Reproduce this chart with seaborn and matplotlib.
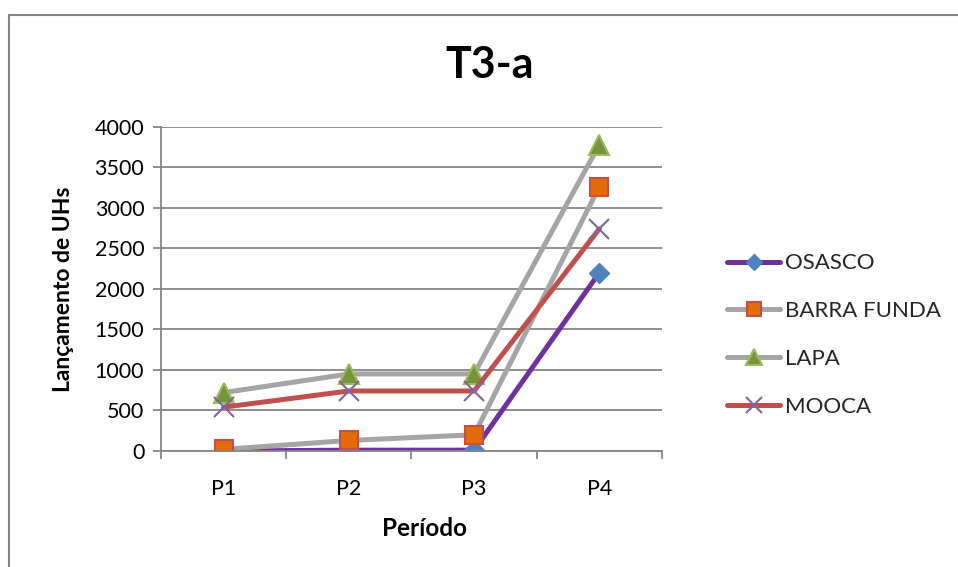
import matplotlib
matplotlib.use("Agg")
import matplotlib.pyplot as plt
from matplotlib.lines import Line2D
import seaborn as sns
import pandas as pd

# Data
periods = ["P1", "P2", "P3", "P4"]
osasco = [0, 10, 10, 2200]
barra_funda = [20, 130, 200, 3260]
lapa = [720, 950, 950, 3780]
mooca = [540, 740, 740, 2740]

series_names = ["OSASCO", "BARRA FUNDA", "LAPA", "MOOCA"]
series_values = [osasco, barra_funda, lapa, mooca]

# Styles per series: line colour, marker, marker face, marker edge, marker size
styles = {
    "OSASCO": dict(color="#7030A0", marker="D", mfc="#4F81BD", mec="#4F81BD", ms=10, mew=1),
    "BARRA FUNDA": dict(color="#A5A5A5", marker="s", mfc="#E36C09", mec="#C0504D", ms=12.5, mew=1.5),
    "LAPA": dict(color="#A5A5A5", marker="^", mfc="#77933C", mec="#9BBB59", ms=14, mew=1.5),
    "MOOCA": dict(color="#C0504D", marker="x", mfc="#8064A2", mec="#8064A2", ms=14, mew=1.5),
}

df = pd.DataFrame({
    "Período": periods * len(series_names),
    "valor": [v for vals in series_values for v in vals],
    "serie": [n for n in series_names for _ in periods],
})

sns.set_theme(style="white")
plt.rcParams["font.family"] = ["Lato", "DejaVu Sans"]

fig = plt.figure(figsize=(9.58, 5.67), dpi=100)
ax = fig.add_axes([0.168, 0.2046, 0.523, 0.5720])

grid_col = "#868686"
lw = 3.6
for name in series_names:
    st = styles[name]
    sub = df[df["serie"] == name]
    sns.lineplot(data=sub, x="Período", y="valor", ax=ax, color=st["color"],
                 linewidth=lw, marker=st["marker"], markersize=st["ms"],
                 markerfacecolor=st["mfc"], markeredgecolor=st["mec"],
                 markeredgewidth=st["mew"], legend=False, sort=False)

ax.set_xlim(-0.5, 3.5)
ax.set_ylim(0, 4000)
ax.set_yticks(range(0, 4001, 500))
ax.set_xticks(range(len(periods)))
ax.set_xticklabels(periods)
ax.set_xticks([-0.5, 0.5, 1.5, 2.5, 3.5], minor=True)

ax.yaxis.grid(True, color=grid_col, linewidth=1.3)
ax.set_axisbelow(True)
for side in ["top", "right"]:
    ax.spines[side].set_visible(False)
for side in ["left", "bottom"]:
    ax.spines[side].set_color(grid_col)
    ax.spines[side].set_linewidth(1.3)

ax.tick_params(axis="y", which="major", length=6, width=1.3, color=grid_col,
               labelsize=15.5, pad=6, left=True)
ax.tick_params(axis="x", which="major", length=0, labelsize=15.5, pad=20)
ax.tick_params(axis="x", which="minor", length=6, width=1.3, color=grid_col, bottom=True)
for lbl in ax.get_xticklabels() + ax.get_yticklabels():
    lbl.set_color("black")

ax.set_xlabel("Período", fontsize=17.5, fontweight="bold", color="black", labelpad=15)
ax.set_ylabel("Lançamento de UHs", fontsize=16.5, fontweight="bold", color="black", labelpad=15)
ax.xaxis.set_label_coords(0.527, -0.205)

fig.text(0.5115, 0.885, "T3-a", ha="center", va="center", fontsize=31,
         fontweight="bold", color="black")

# Legend
handles = []
for name in series_names:
    st = styles[name]
    handles.append(Line2D([0], [0], color=st["color"], linewidth=lw, marker=st["marker"],
                          markersize=st["ms"] * 0.85, markerfacecolor=st["mfc"],
                          markeredgecolor=st["mec"], markeredgewidth=st["mew"]))
fig.legend(handles, series_names, loc="center left", bbox_to_anchor=(0.759, 0.409),
           frameon=False, fontsize=16, handlelength=2.4, handletextpad=0.2,
           labelspacing=1.25, borderaxespad=0, borderpad=0)

# Chart frame
fig.add_artist(Line2D([9 / 958, 9 / 958], [0, 1 - 15 / 567], transform=fig.transFigure,
                      color=grid_col, linewidth=1.5))
fig.add_artist(Line2D([9 / 958, 1], [1 - 15 / 567, 1 - 15 / 567], transform=fig.transFigure,
                      color=grid_col, linewidth=1.5))

fig.savefig("out.png", dpi=100, facecolor="white")
